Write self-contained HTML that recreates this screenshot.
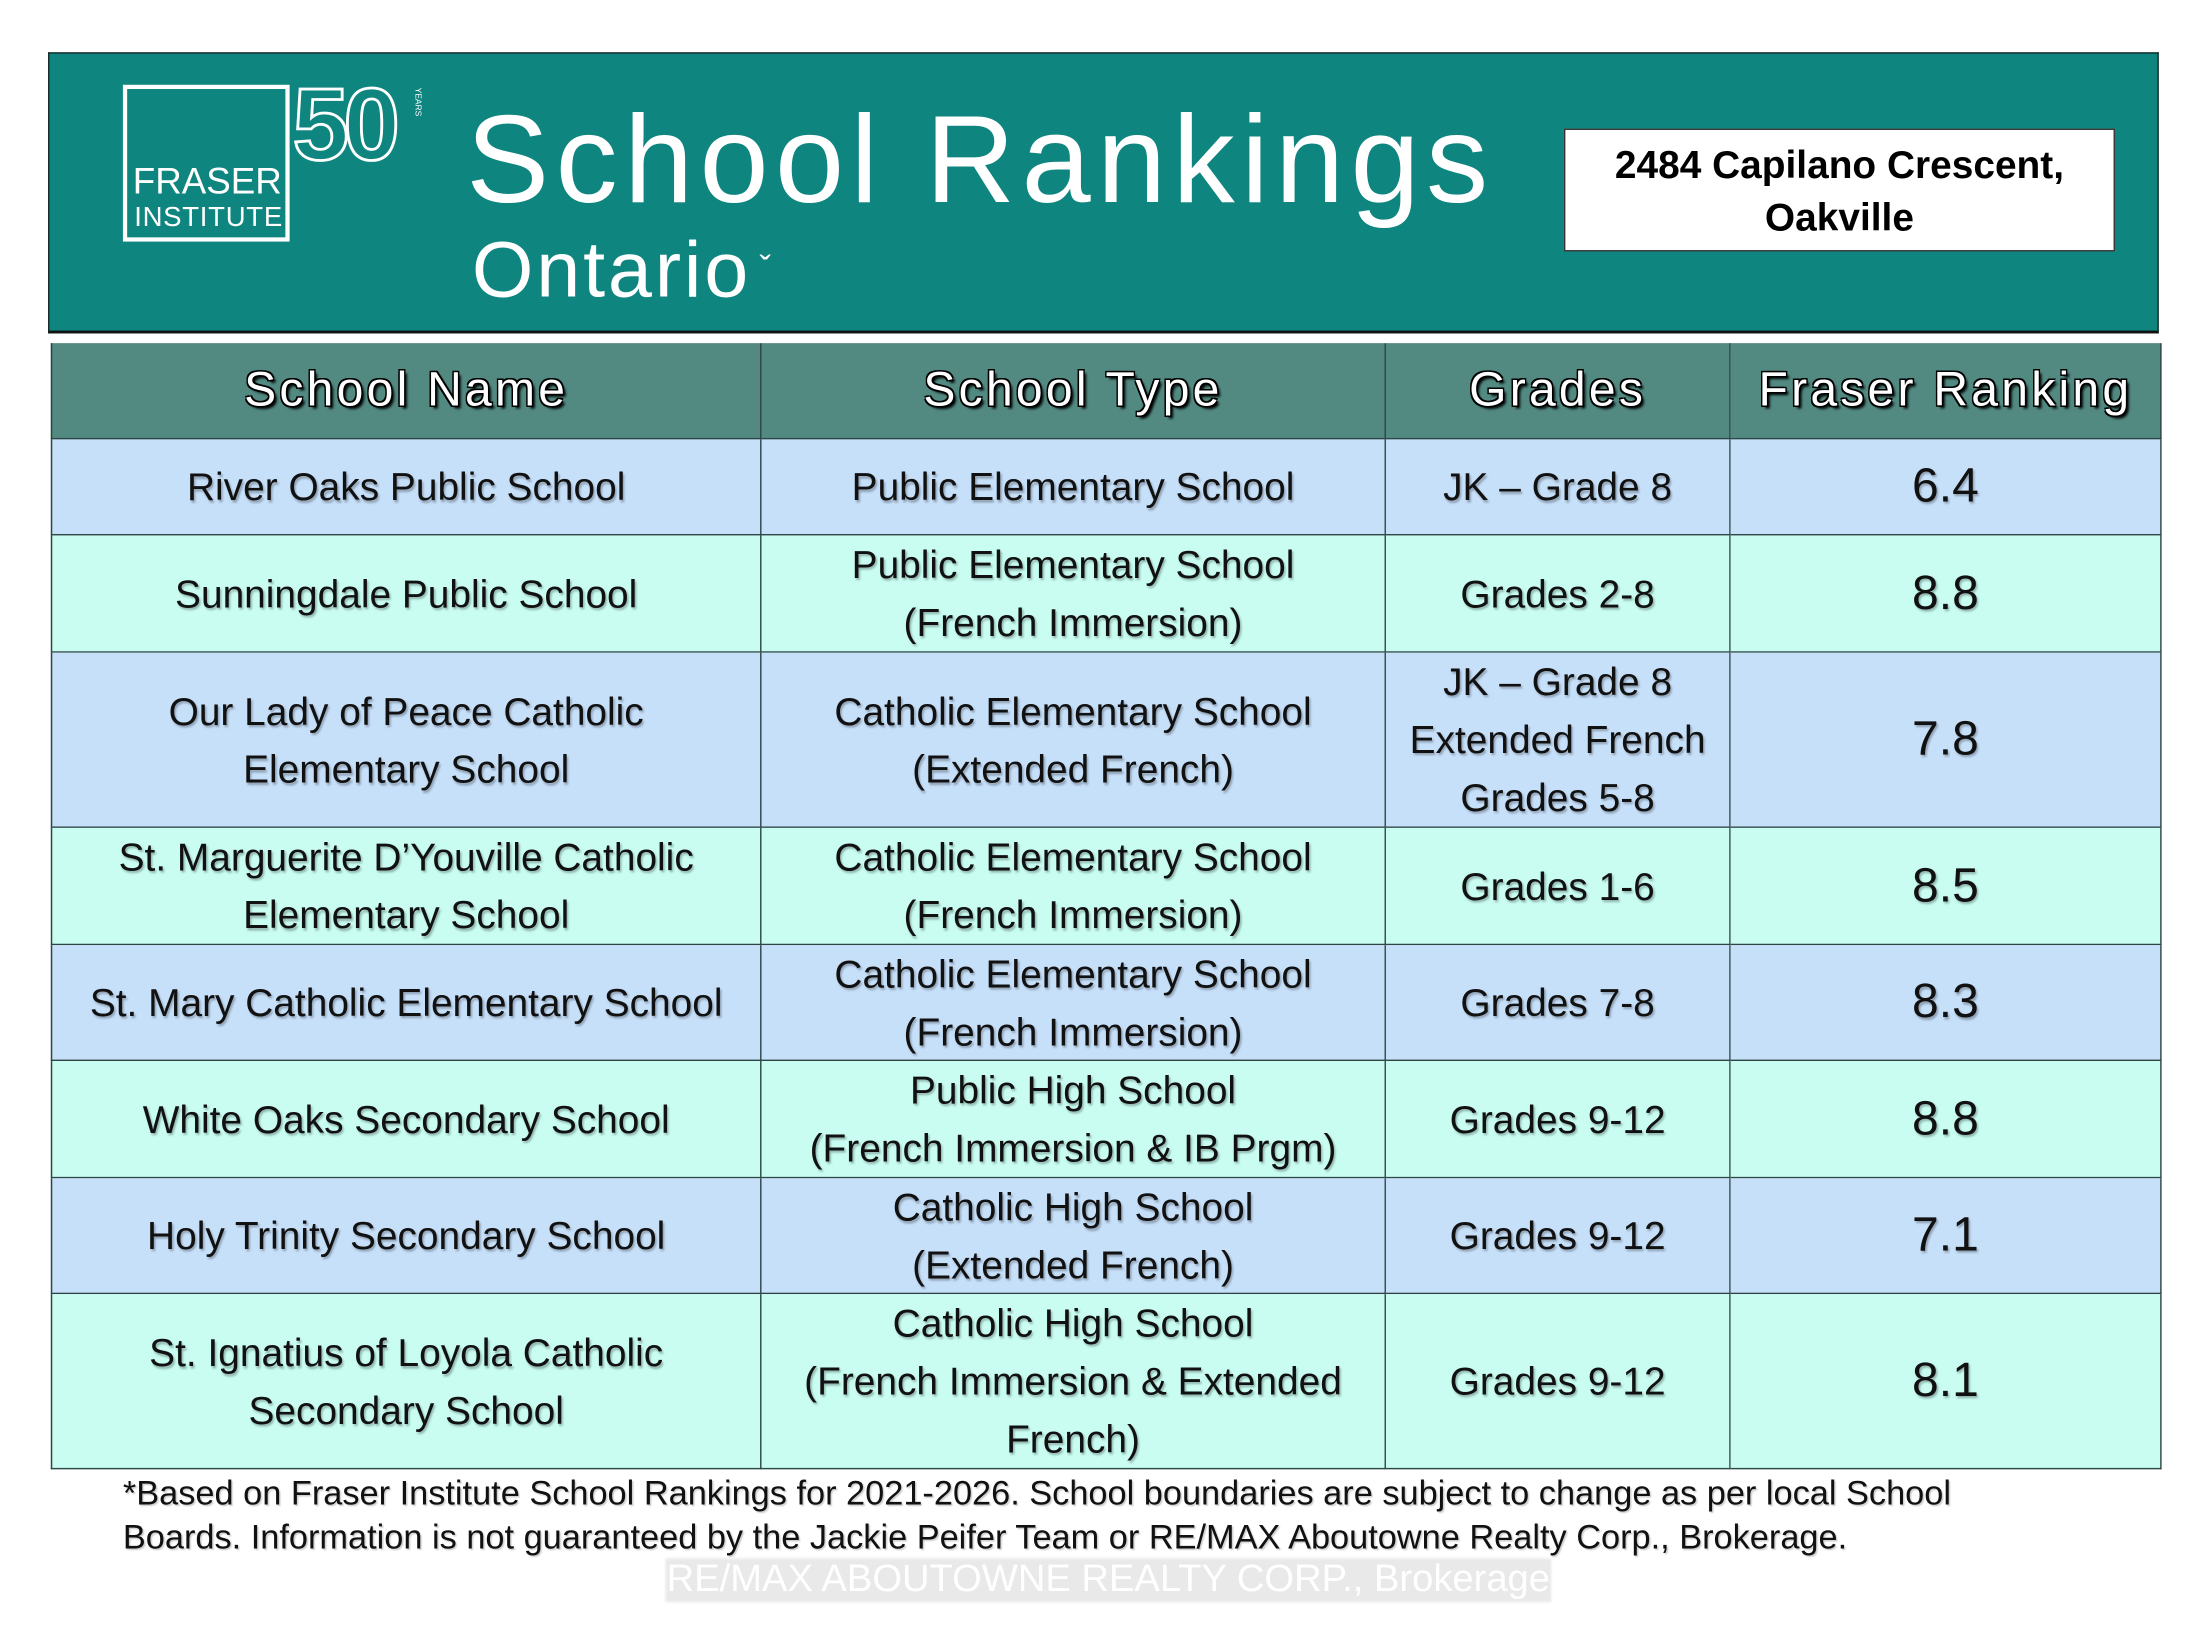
<!DOCTYPE html>
<html><head><meta charset="utf-8"><style>
html,body{margin:0;padding:0;background:#fff;}
body{width:2210px;height:1646px;overflow:hidden;position:relative;font-family:"Liberation Sans",sans-serif;}
#w{position:absolute;left:0;top:0;width:1563px;height:1164px;transform:scale(1.4128,1.4128);transform-origin:0 0;}
.a{position:absolute;}
#banner{left:34px;top:37px;width:1492px;height:196px;background:#0f8580;border:1px solid #1a2a28;border-bottom:2px solid #111;}
.cell{position:absolute;display:flex;align-items:center;justify-content:center;text-align:center;color:#111;font-size:27.5px;line-height:41px;text-shadow:1px 1.5px 1.5px rgba(0,0,0,.3);box-sizing:border-box;border-right:1px solid #2d4544;border-bottom:1px solid #2d4544;}
.h{color:#fff;font-size:34px;letter-spacing:2.3px;text-shadow:-1px -1px 0 #000,1px -1px 0 #000,-1px 1px 0 #000,1px 1px 0 #000,2px 2px 2px #000;}
.r{font-size:34px;}
</style></head><body><div id="w">
<div class="a" id="banner"></div>
<div class="a" style="left:87px;top:60px;width:112px;height:105px;border:3px solid #fff;"></div>
<div class="a" style="left:94px;top:113px;color:#fff;font-size:26px;">FRASER</div>
<div class="a" style="left:95px;top:143px;color:#fff;font-size:19.5px;letter-spacing:0.5px;">INSTITUTE</div>
<div class="a" style="left:207px;top:48px;color:#0f8580;font-size:72px;font-weight:bold;letter-spacing:-4px;-webkit-text-stroke:2px #fff;">50</div>
<div class="a" style="left:292px;top:62px;color:#fff;font-size:6px;writing-mode:vertical-rl;">YEARS</div>
<div class="a" style="left:330px;top:62px;color:#fff;font-size:88px;letter-spacing:4.5px;">School Rankings</div>
<div class="a" style="left:334px;top:158px;color:#fff;font-size:56px;letter-spacing:2px;">Ontario<span style="font-size:24px;vertical-align:12px;margin-left:6px;">&#711;</span></div>
<div class="a" style="left:1107px;top:91px;width:388px;height:85px;background:#fff;border:1px solid #333;display:flex;align-items:center;justify-content:center;text-align:center;font-weight:bold;font-size:27.5px;line-height:37px;color:#000;">2484 Capilano Crescent,<br>Oakville</div>

<div class="a" style="left:36px;top:243px;width:1494px;height:797px;border:1px solid #2d4544;border-right:none;border-bottom:none;box-sizing:border-box;"></div>
<div id="t"></div>
<div class="a" style="left:87px;top:1042px;font-size:24.3px;line-height:31px;color:#111;text-shadow:1px 1px 1px rgba(0,0,0,.2);white-space:nowrap;">*Based on Fraser Institute School Rankings for 2021-2026. School boundaries are subject to change as per local School<br>Boards. Information is not guaranteed by the Jackie Peifer Team or RE/MAX Aboutowne Realty Corp., Brokerage.</div>
<div class="a" style="left:471px;top:1103px;width:627px;height:31px;background:#e9e9e9;filter:blur(1px);"></div>
<div class="a" style="left:471px;top:1102px;width:627px;text-align:center;color:#fff;font-size:27px;line-height:31px;white-space:nowrap;">RE/MAX ABOUTOWNE REALTY CORP., Brokerage</div>
</div>
<script>
var cols=[36,539,981,1225,1530];
var rows=[[243,311,'#528a82',['School Name','School Type','Grades','Fraser Ranking'],1],
[311,379,'#c7e0fa',['River Oaks Public School','Public Elementary School','JK – Grade 8','6.4']],
[379,462,'#c9fdf2',['Sunningdale Public School','Public Elementary School<br>(French Immersion)','Grades 2-8','8.8']],
[462,586,'#c7e0fa',['Our Lady of Peace Catholic<br>Elementary School','Catholic Elementary School<br>(Extended French)','JK – Grade 8<br>Extended French<br>Grades 5-8','7.8']],
[586,669,'#c9fdf2',['St. Marguerite D’Youville Catholic<br>Elementary School','Catholic Elementary School<br>(French Immersion)','Grades 1-6','8.5']],
[669,751,'#c7e0fa',['St. Mary Catholic Elementary School','Catholic Elementary School<br>(French Immersion)','Grades 7-8','8.3']],
[751,834,'#c9fdf2',['White Oaks Secondary School','Public High School<br>(French Immersion &amp; IB Prgm)','Grades 9-12','8.8']],
[834,916,'#c7e0fa',['Holy Trinity Secondary School','Catholic High School<br>(Extended French)','Grades 9-12','7.1']],
[916,1040,'#c9fdf2',['St. Ignatius of Loyola Catholic<br>Secondary School','Catholic High School<br>(French Immersion &amp; Extended<br>French)','Grades 9-12','8.1']]];
var h='';
rows.forEach(function(r){for(var i=0;i<4;i++){var c='cell'+(r[4]?' h':(i==3?' r':''));
h+='<div class="'+c+'" style="left:'+cols[i]+'px;top:'+r[0]+'px;width:'+(cols[i+1]-cols[i])+'px;height:'+(r[1]-r[0])+'px;background:'+r[2]+';'+(i==0?'border-left:1px solid #2d4544;':'')+'">'+'<span>'+r[3][i]+'</span></div>';}});
document.getElementById('t').innerHTML=h;
</script>
</body></html>
